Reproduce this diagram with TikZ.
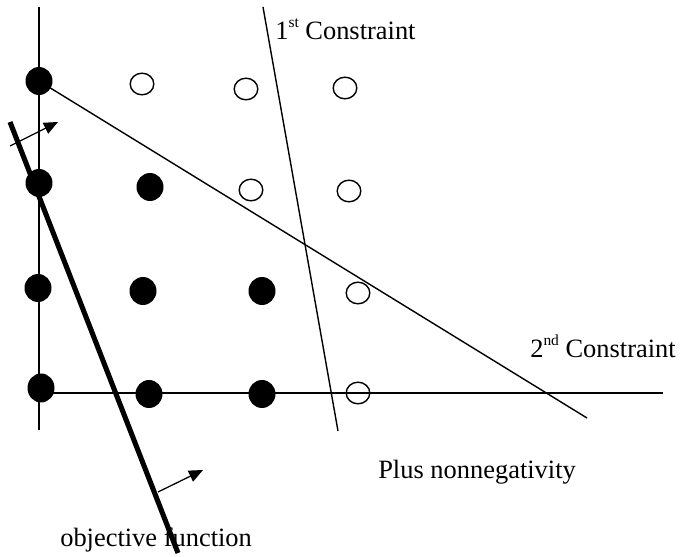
\documentclass[tikz,border=0pt]{standalone}
\usepackage{fontspec}
\setmainfont{Liberation Serif}
\usepackage{tikz}
\usetikzlibrary{arrows.meta}

\newcommand{\supsmall}[1]{\raisebox{9pt}{\fontsize{11}{11}\selectfont #1}}

\begin{document}
\begin{tikzpicture}[x=0.025cm,y=-0.025cm,
    axisline/.style={line width=1.1pt},
    limitline/.style={line width=1pt},
    objline/.style={line width=3.6pt},
    shiftarrow/.style={line width=0.9pt,-{Triangle[length=10pt,width=8.5pt]}},
    caption/.style={anchor=base west,inner sep=0pt,font=\fontsize{18.8}{22}\selectfont}]
    \useasboundingbox (0,0) rectangle (680,557);
    % axes
    \draw[axisline] (39,7)--(39,430);
    \draw[axisline] (39,393)--(663,393);
    % constraints
    \coordinate (c1top) at (263,7);
    \coordinate (c1bot) at (338,431);
    \coordinate (c2top) at (39,81);
    \coordinate (c2bot) at (587,418);
    \draw[limitline] (c1top)--(c1bot);
    \draw[limitline] (c2top)--(c2bot);
    % feasible integer points
    \fill (39,81) ellipse (13.5 and 14);
    \fill (39,183) ellipse (13.5 and 14);
    \fill (150,187) ellipse (13.5 and 14);
    \fill (38,288) ellipse (13.5 and 14);
    \fill (143,291) ellipse (13.5 and 14);
    \fill (262,291) ellipse (13.5 and 14);
    \fill (41,388) ellipse (13.5 and 14.5);
    \fill (149,394) ellipse (13.5 and 14);
    \fill (262,394) ellipse (13.5 and 14);
    % infeasible points
    \draw[line width=1pt,fill=white] (142,84) ellipse (11.8 and 10.8);
    \draw[line width=1pt,fill=white] (246,89) ellipse (11.8 and 10.8);
    \draw[line width=1pt,fill=white] (345,88) ellipse (11.8 and 10.8);
    \draw[line width=1pt,fill=white] (251,190) ellipse (11.8 and 10.8);
    \draw[line width=1pt,fill=white] (349,191) ellipse (11.8 and 10.8);
    \draw[line width=1pt] (358,293) ellipse (11.8 and 10.8);
    \draw[line width=1pt] (358,393) ellipse (11.8 and 10.8);
    % objective function
    \coordinate (objtop) at (10,122);
    \coordinate (objbot) at (178,553);
    \draw[objline] (objtop)--(objbot);
    \coordinate (a1s) at (10,146);
    \coordinate (a1e) at (58,122);
    \coordinate (a2s) at (158,492);
    \coordinate (a2e) at (203,470);
    \draw[shiftarrow] (a1s)--(a1e);
    \draw[shiftarrow] (a2s)--(a2e);
    % labels
    \node[caption] (first) at (275,40) {1\supsmall{st} Constraint};
    \node[caption] (second) at (530,358) {2\supsmall{nd} Constraint};
    \node[caption] (nonneg) at (378,479) {Plus nonnegativity};
    \node[caption] (objective) at (60,547) {objective function};
  \end{tikzpicture}
\end{document}
